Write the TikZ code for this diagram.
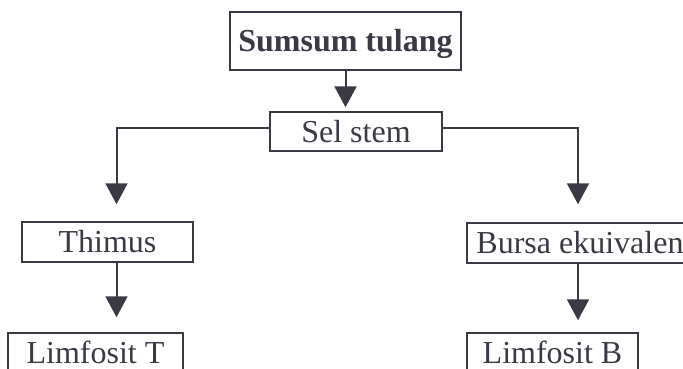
\documentclass[tikz,border=0pt]{standalone}
\usepackage{fontspec}
\setmainfont{Liberation Serif}
\usetikzlibrary{arrows.meta}
\definecolor{ink}{HTML}{3A3A44}
\begin{document}
\begin{tikzpicture}[node distance=110pt]
    \tikzstyle{arrow} = [draw=ink, line width=2pt, -{Triangle[width=22pt, length=21pt]}]
    \tikzstyle{box} = [rectangle, draw=ink, line width=1.5pt, text=ink, font=\fontsize{32}{38}\selectfont, text height=21pt, text depth=0pt, inner sep=0pt, minimum height=40pt]
    \useasboundingbox (0,0) rectangle (683pt,-368pt);
    \clip (0,0) rectangle (683pt,-368pt);
    \fill[white] (0,0) rectangle (683pt,-368pt);

    \node[box, font={\fontsize{32}{38}\selectfont\bfseries}, minimum width=231pt, minimum height=58pt] at (345.5pt,-41pt)(S){Sumsum tulang};
    \node[box, below of = S, xshift = 10.5pt, yshift = 19.5pt, minimum width=172pt, minimum height=39pt](Sel){Sel stem};
    \node[box, below of = Sel, xshift = -248.5pt, yshift = -0.5pt, minimum width=171pt](Th){Thimus};
    \node[box, right of = Th, xshift = 362.5pt, yshift = -1pt, minimum width=226pt](Bu){Bursa ekuivalen};
    \node[box, below of = Th, xshift = -12pt, yshift = -1pt, minimum width=175pt](LT){Limfosit T};
    \node[box, below of = Bu, xshift = -27.5pt, minimum width=171pt](LB){Limfosit B};

    \draw[arrow, shorten >= 4pt] (S.south) -- (S.south |- Sel.north);
    \draw[arrow, shorten >= 17pt] ([yshift=3.5pt]Sel.west) -| ([xshift=9pt]Th.north);
    \draw[arrow, shorten >= 18pt] ([yshift=3.5pt]Sel.east) -| ([xshift=-2pt]Bu.north);
    \draw[arrow, shorten >= 15pt] ([xshift=9pt]Th.south) -- ([xshift=9pt]Th.south |- LT.north);
    \draw[arrow, shorten >= 12pt] ([xshift=-2pt]Bu.south) -- ([xshift=-2pt]Bu.south |- LB.north);

    \end{tikzpicture}
\end{document}
